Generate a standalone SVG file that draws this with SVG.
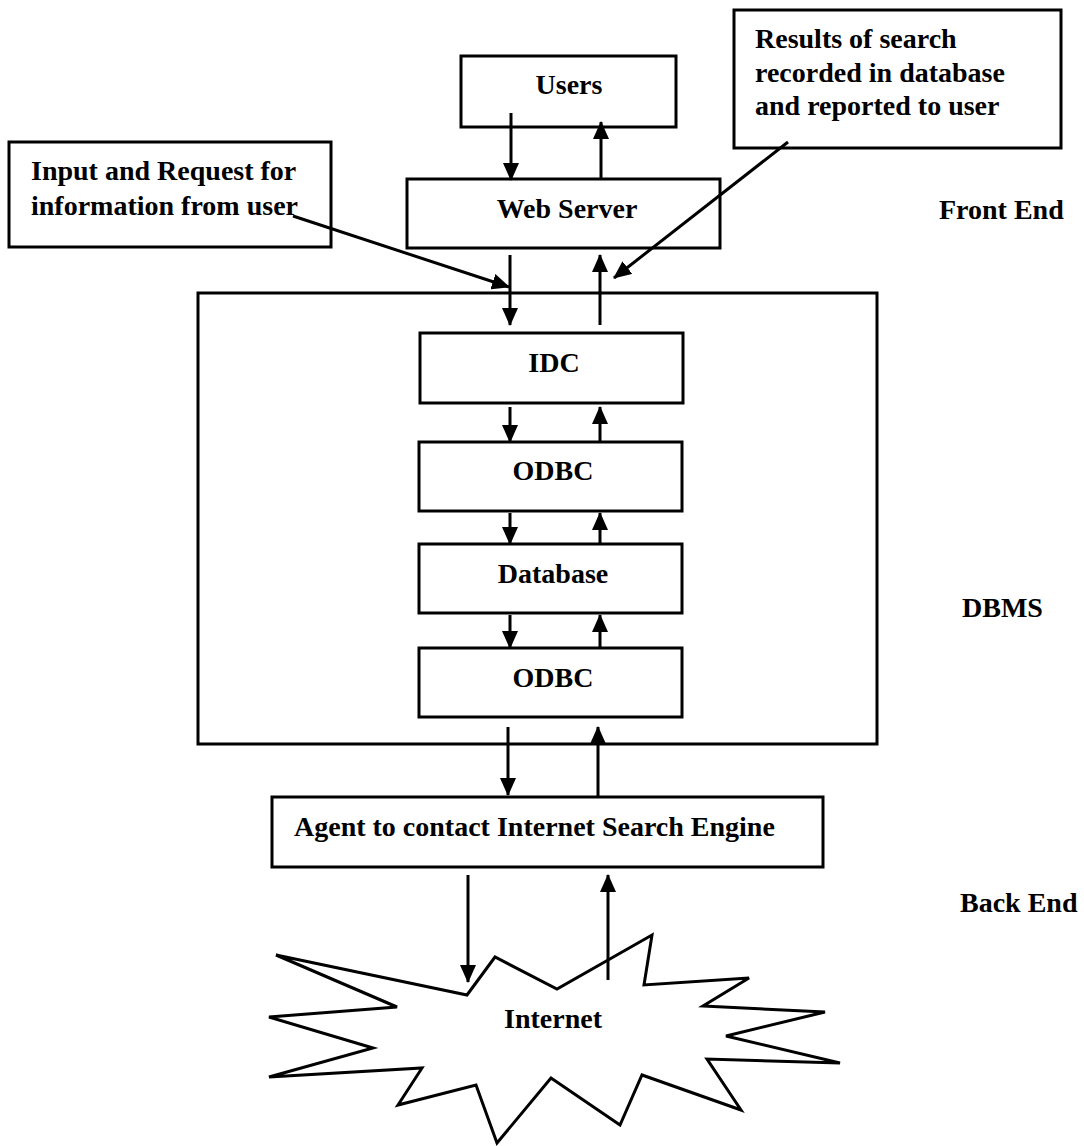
<svg xmlns="http://www.w3.org/2000/svg" width="1084" height="1146" viewBox="0 0 1084 1146">
  <defs>
    <marker id="tip" markerUnits="userSpaceOnUse" markerWidth="18" markerHeight="16" viewBox="0 0 18 16" refX="17" refY="8" orient="auto">
      <path d="M0,0 L18,8 L0,16 Z" fill="#000"/>
    </marker>
  </defs>
  <style>
    .box { fill: #fff; stroke: #000; stroke-width: 3; }
    .frame { fill: none; stroke: #000; stroke-width: 3; }
    .lbl { font-family: "Liberation Serif", "Times New Roman", serif; font-weight: bold; font-size: 28px; fill: #000; }
    .mid { text-anchor: middle; }
    .conn line { stroke: #000; stroke-width: 3; marker-end: url(#tip); }
  </style>
  <rect width="1084" height="1146" fill="#fff"/>

  <!-- DBMS container -->
  <g id="dbms-frame">
    <rect class="frame" x="198" y="293" width="679" height="451"/>
  </g>

  <g id="users">
    <rect class="box" x="461" y="56" width="215" height="71"/>
    <text class="lbl mid" x="569" y="94">Users</text>
  </g>

  <g id="note-results">
    <rect class="box" x="734" y="10" width="327" height="138"/>
    <text class="lbl" x="755" y="48">Results of search</text>
    <text class="lbl" x="755" y="82">recorded in database</text>
    <text class="lbl" x="755" y="115">and reported to user</text>
  </g>

  <g id="note-input">
    <rect class="box" x="9" y="142" width="322" height="105"/>
    <text class="lbl" x="31" y="180">Input and Request for</text>
    <text class="lbl" x="31" y="215">information from user</text>
  </g>

  <g id="web-server">
    <rect class="box" x="407" y="179" width="313" height="69"/>
    <text class="lbl mid" x="567" y="218">Web Server</text>
  </g>

  <g id="idc">
    <rect class="box" x="420" y="333" width="263" height="70"/>
    <text class="lbl mid" x="554" y="372">IDC</text>
  </g>

  <g id="odbc-upper">
    <rect class="box" x="419" y="442" width="263" height="69"/>
    <text class="lbl mid" x="553" y="480">ODBC</text>
  </g>

  <g id="database">
    <rect class="box" x="419" y="544" width="263" height="69"/>
    <text class="lbl mid" x="553" y="583">Database</text>
  </g>

  <g id="odbc-lower">
    <rect class="box" x="419" y="648" width="263" height="69"/>
    <text class="lbl mid" x="553" y="687">ODBC</text>
  </g>

  <g id="agent">
    <rect class="box" x="272" y="797" width="551" height="70"/>
    <text class="lbl" x="294" y="836">Agent to contact Internet Search Engine</text>
  </g>

  <g id="internet">
    <polygon class="box" points="276,955 467,995 495,957 557,989 652,935 644,985 749,978 703,1006 825,1012 726,1036 840,1063 707,1059 741,1110 642,1075 620,1125 551,1078 497,1143 476,1085 398,1105 422,1068 269,1077 373,1048 269,1017 397,1007"/>
    <text class="lbl mid" x="553" y="1028">Internet</text>
  </g>

  <!-- tier labels -->
  <g id="tier-front"><text class="lbl" x="939" y="219">Front End</text></g>
  <g id="tier-dbms"><text class="lbl" x="962" y="617">DBMS</text></g>
  <g id="tier-back"><text class="lbl" x="960" y="912">Back End</text></g>

  <g id="connectors" class="conn">
    <line x1="511" y1="113" x2="511" y2="180"/>
    <line x1="601" y1="179" x2="601" y2="122"/>
    <line x1="510" y1="255" x2="510" y2="325"/>
    <line x1="600" y1="325" x2="600" y2="255"/>
    <line x1="293" y1="216" x2="509" y2="287"/>
    <line x1="788" y1="142" x2="614" y2="278"/>
    <line x1="510" y1="407" x2="510" y2="442"/>
    <line x1="600" y1="442" x2="600" y2="407"/>
    <line x1="510" y1="513" x2="510" y2="544"/>
    <line x1="600" y1="544" x2="600" y2="513"/>
    <line x1="510" y1="615" x2="510" y2="648"/>
    <line x1="600" y1="648" x2="600" y2="615"/>
    <line x1="508" y1="727" x2="508" y2="795"/>
    <line x1="598" y1="797" x2="598" y2="727"/>
    <line x1="468" y1="875" x2="468" y2="982"/>
    <line x1="608" y1="980" x2="608" y2="875"/>
  </g>
</svg>
